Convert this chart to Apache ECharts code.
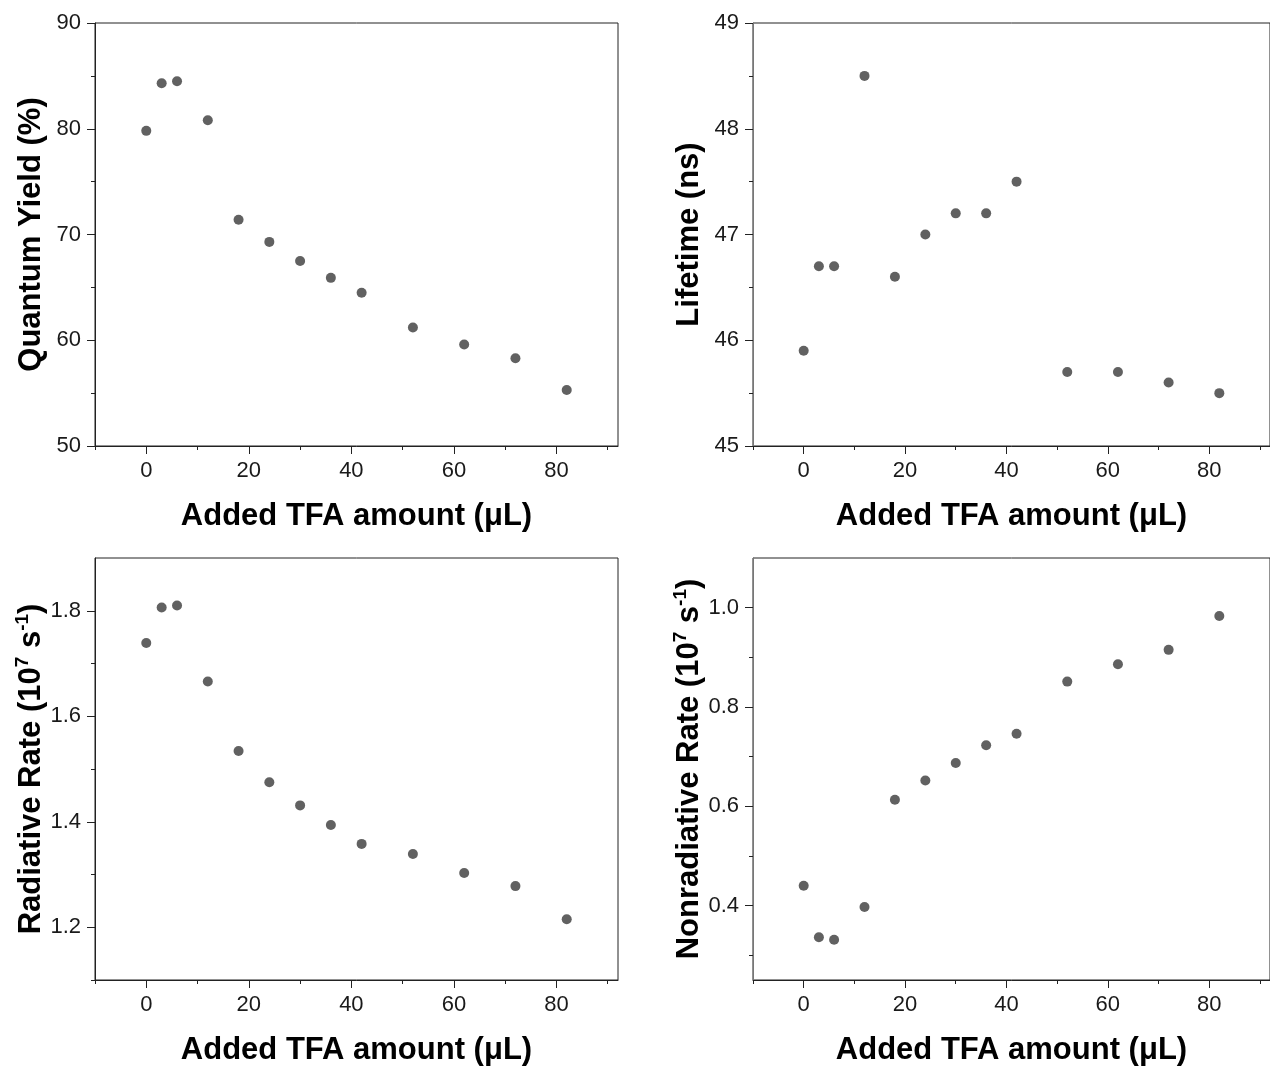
<!DOCTYPE html>
<html><head><meta charset="utf-8">
<script src="https://cdn.jsdelivr.net/npm/echarts@6/dist/echarts.min.js"></script>
<style>html,body{margin:0;padding:0;background:#fff}#c{width:1270px;height:1067px}</style>
</head><body><div id="c"></div>
<script>
// ---- data ----
const tfaAmount = [0, 3, 6, 12, 18, 24, 30, 36, 42, 52, 62, 72, 82];
const quantumYield = [79.8, 84.3, 84.5, 80.8, 71.4, 69.3, 67.5, 65.9, 64.5, 61.2, 59.6, 58.3, 55.3];
const lifetime = [45.9, 46.7, 46.7, 48.5, 46.6, 47.0, 47.2, 47.2, 47.5, 45.7, 45.7, 45.6, 45.5];
const radiativeRate = [1.739, 1.806, 1.810, 1.666, 1.534, 1.475, 1.431, 1.394, 1.358, 1.339, 1.303, 1.278, 1.215];
const nonradiativeRate = [0.440, 0.336, 0.331, 0.397, 0.613, 0.652, 0.687, 0.723, 0.746, 0.851, 0.886, 0.915, 0.983];

const xMajorTicks = [0, 20, 40, 60, 80];
const xMinorTicks = [-10, 10, 30, 50, 70, 90];
const qyMajorTicks = [50, 60, 70, 80, 90];
const qyMinorTicks = [55, 65, 75, 85];
const ltMajorTicks = [45, 46, 47, 48, 49];
const ltMinorTicks = [45.5, 46.5, 47.5, 48.5];
const rrMajorTicks = [1.2, 1.4, 1.6, 1.8];
const rrMinorTicks = [1.1, 1.3, 1.5, 1.7];
const nrMajorTicks = [0.4, 0.6, 0.8, 1.0];
const nrMinorTicks = [0.3, 0.5, 0.7, 0.9];

const xTitle = 'Added TFA amount (\u03BCL)';
const yTitles = [
  '{b|Quantum Yield (%)}',
  '{b|Lifetime (ns)}',
  '{b|Radiative Rate (10}{s|7}{b| s}{s|-1}{b|)}',
  '{b|Nonradiative Rate (10}{s|7}{b| s}{s|-1}{b|)}'
];

// ---- layout / style ----
const FONT = '"Liberation Sans", Arial, sans-serif';
const panels = [
  {left: 95,  top: 23,  values: quantumYield,     min: 50,   max: 90,  major: qyMajorTicks, minor: qyMinorTicks, dec: 0, yColor: '#222'},
  {left: 753, top: 23,  values: lifetime,         min: 45,   max: 49,  major: ltMajorTicks, minor: ltMinorTicks, dec: 0, yColor: '#777'},
  {left: 95,  top: 558, values: radiativeRate,    min: 1.1,  max: 1.9, major: rrMajorTicks, minor: rrMinorTicks, dec: 1, yColor: '#222'},
  {left: 753, top: 558, values: nonradiativeRate, min: 0.25, max: 1.1, major: nrMajorTicks, minor: nrMinorTicks, dec: 1, yColor: '#777'}
];
const W = 523, H = 423;
const XMIN = -10, XMAX = 92;

const grid = [], xAxis = [], yAxis = [], series = [];
const rich = {
  b: {fontFamily: FONT, fontSize: 31, fontWeight: 'bold', color: '#000', lineHeight: 36},
  s: {fontFamily: FONT, fontSize: 19, fontWeight: 'bold', color: '#000', lineHeight: 19, verticalAlign: 'top'}
};

panels.forEach((p, i) => {
  grid.push({left: p.left, top: p.top, width: W, height: H, show: true, borderColor: '#222', borderWidth: 1, backgroundColor: 'transparent'});
  xAxis.push({
    gridIndex: i, type: 'value', position: 'bottom', min: XMIN, max: XMAX,
    axisLine: {show: true, onZero: false, lineStyle: {color: '#222', width: 1}},
    axisTick: {show: true, inside: false, length: 8, customValues: xMajorTicks, lineStyle: {color: '#222'}},
    axisLabel: {show: true, customValues: xMajorTicks, margin: 14, fontFamily: FONT, fontSize: 22, color: '#1a1a1a'},
    splitLine: {show: false},
    name: xTitle, nameLocation: 'middle', nameGap: 55,
    nameTextStyle: {fontFamily: FONT, fontSize: 31, fontWeight: 'bold', color: '#000'}
  });
  xAxis.push({
    gridIndex: i, type: 'value', position: 'bottom', min: XMIN, max: XMAX,
    axisLine: {show: false, onZero: false},
    axisTick: {show: true, inside: false, length: 4, customValues: xMinorTicks, lineStyle: {color: '#222'}},
    axisLabel: {show: false}, splitLine: {show: false}
  });
  yAxis.push({
    gridIndex: i, type: 'value', position: 'left', min: p.min, max: p.max,
    axisLine: {show: true, onZero: false, lineStyle: {color: p.yColor, width: 1}},
    axisTick: {show: true, inside: false, length: 8, customValues: p.major, lineStyle: {color: '#222'}},
    axisLabel: {show: true, customValues: p.major, margin: 14, fontFamily: FONT, fontSize: 22, color: '#1a1a1a',
      formatter: v => Number(v).toFixed(p.dec)},
    splitLine: {show: false},
    name: yTitles[i], nameLocation: 'middle', nameGap: 46,
    nameTextStyle: {rich: rich}
  });
  yAxis.push({
    gridIndex: i, type: 'value', position: 'left', min: p.min, max: p.max,
    axisLine: {show: false, onZero: false},
    axisTick: {show: true, inside: false, length: 4, customValues: p.minor, lineStyle: {color: '#222'}},
    axisLabel: {show: false}, splitLine: {show: false}
  });
  series.push({
    type: 'scatter', xAxisIndex: 2 * i, yAxisIndex: 2 * i,
    symbol: 'circle', symbolSize: 10,
    itemStyle: {color: '#3a3a3a'},
    data: tfaAmount.map((x, k) => [x, p.values[k]])
  });
});

const chart = echarts.init(document.getElementById('c'), null, {renderer: 'canvas'});
chart.setOption({animation: false, backgroundColor: '#fff', grid, xAxis, yAxis, series});
</script>
</body></html>
